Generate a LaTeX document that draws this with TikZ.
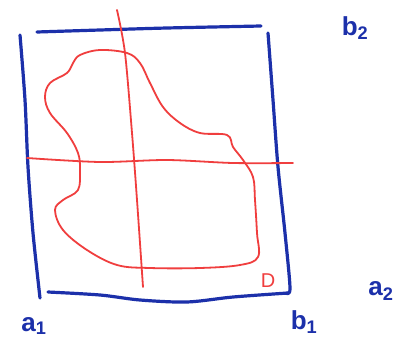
\documentclass[tikz,border=0pt]{standalone}
\usepackage{fontspec}
\setmainfont{Liberation Sans}
\definecolor{penblue}{RGB}{28, 48, 170}
\definecolor{penred}{RGB}{240, 62, 62}
\tikzset{
  frame/.style={penblue, line width=3.2pt, line cap=round, line join=round},
  curve/.style={penred, line width=1.8pt, line cap=round, line join=round},
  lbl/.style={penblue, font=\fontsize{26}{26}\selectfont\bfseries, inner sep=0pt},
  dlbl/.style={penred, font=\fontsize{20}{20}\selectfont, inner sep=0pt}
}
\begin{document}
\begin{tikzpicture}[x=1pt, y=-1pt]
  \useasboundingbox[fill=white] (0,0) rectangle (403,348);
  % blue frame, four strokes
  \draw[frame] plot[smooth] coordinates {(37,32) (100,30) (167,28) (261,26)};
  \draw[frame] plot[smooth] coordinates {(20,35) (25,100) (28,167) (33,233) (40,298)};
  \draw[frame] plot[smooth] coordinates {(268,33) (273,100) (278,167) (285,233) (290,288) (286,293)};
  \draw[frame] plot[smooth] coordinates {(48,292) (100,295) (140,300) (187,302) (233,297) (288,293)};
  % red cross
  \draw[curve] plot[smooth] coordinates {(117,10) (125,53) (132,133) (137,200) (143,287)};
  \draw[curve] plot[smooth] coordinates {(27,158) (100,162) (167,160) (233,163) (293,163)};
  % red region
  \draw[curve] plot[smooth cycle, tension=0.6] coordinates {
    (80,55) (100,50) (127,53) (140,63) (150,83) (163,107) (180,123) (200,133)
    (227,135) (233,147) (243,160) (253,177) (255,200) (257,233) (258,257)
    (240,265) (200,268) (150,268) (117,265) (87,250) (63,230) (55,210)
    (63,200) (78,190) (80,170) (78,153) (67,133) (50,113) (45,97) (50,83)
    (67,73) (73,63)};
  % labels
  \node[dlbl] (D) at (268,281) {D};
  \node[lbl] (b2) at (355,28) {b\textsubscript{2}};
  \node[lbl] (a1) at (34,326) {a\textsubscript{1}};
  \node[lbl] (b1) at (304,322) {b\textsubscript{1}};
  \node[lbl] (a2) at (381,291) {a\textsubscript{2}};
\end{tikzpicture}
\end{document}
